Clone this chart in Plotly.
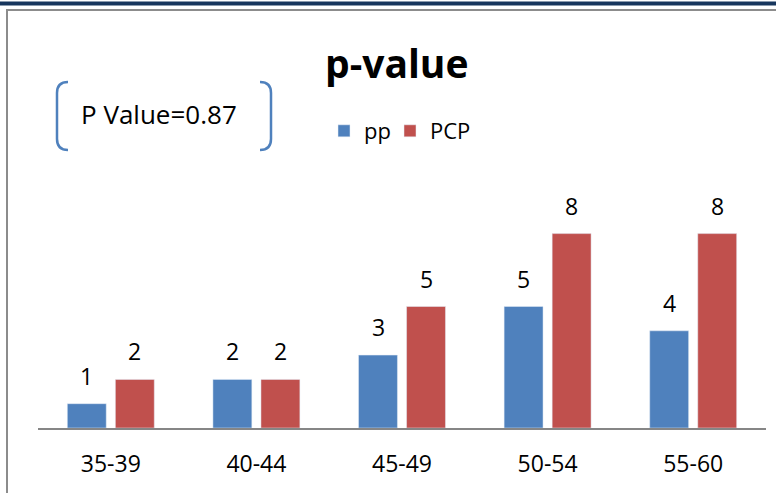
import plotly.graph_objects as go

categories = ["35-39", "40-44", "45-49", "50-54", "55-60"]
pp_values = [1, 2, 3, 5, 4]
pcp_values = [2, 2, 5, 8, 8]
series_names = ["pp", "PCP"]
title_text = "p-value"
note_text = "P Value=0.87"

W, H = 776, 493
ML, MR, MT, MB = 38, 10, 185, 65
PW, PH = W - ML - MR, H - MT - MB

def px(x):
    return (x - ML) / PW

def py(y):
    return (H - MB - y) / PH

FONT = "Open Sans"
BLUE = "#4F81BD"
RED = "#C0504D"

fig = go.Figure()
fig.add_trace(go.Bar(x=categories, y=pp_values, name=series_names[0], marker_color=BLUE, legend="legend"))
fig.add_trace(go.Bar(x=categories, y=pcp_values, name=series_names[1], marker_color=RED, legend="legend2"))

annotations = [
    dict(text=f"<b>{title_text}</b>", xref="paper", yref="paper", x=px(397), y=py(62),
         xanchor="center", yanchor="middle", showarrow=False,
         font=dict(size=39, family=FONT, color="black")),
    dict(text=note_text, xref="paper", yref="paper", x=px(79), y=py(114),
         xanchor="left", yanchor="middle", showarrow=False,
         font=dict(size=26, family=FONT, color="black")),
]
# value labels above each bar
for vals, shift in ((pp_values, -24), (pcp_values, 24)):
    for cat, v in zip(categories, vals):
        annotations.append(dict(text=str(v), x=cat, y=v, xref="x", yref="y", xshift=shift,
                                yshift=10, yanchor="bottom", showarrow=False,
                                font=dict(size=23, family=FONT, color="black")))

shapes = []
# top navy bar
shapes.append(dict(type="line", xref="paper", yref="paper", x0=px(0), x1=px(W), y0=py(3.5), y1=py(3.5),
                   line=dict(color="#17365D", width=4)))
# chart border
shapes.append(dict(type="rect", xref="paper", yref="paper", x0=px(7), x1=px(W + 20), y0=py(10), y1=py(H + 20),
                   line=dict(color="#8C8C8C", width=2)))
# bracket callout
left = f"M {px(68)},{py(82)} Q {px(57)},{py(82)} {px(57)},{py(93)} L {px(57)},{py(139)} Q {px(57)},{py(150)} {px(68)},{py(150)}"
right = f"M {px(260)},{py(82)} Q {px(271)},{py(82)} {px(271)},{py(93)} L {px(271)},{py(139)} Q {px(271)},{py(150)} {px(260)},{py(150)}"
for p in (left, right):
    shapes.append(dict(type="path", xref="paper", yref="paper", path=p, line=dict(color="#4F81BD", width=2.5)))

legend_common = dict(orientation="h", yanchor="middle", xanchor="left", itemwidth=30,
                     font=dict(size=22, family=FONT, color="black"), bgcolor="rgba(0,0,0,0)")

fig.update_layout(
    width=W, height=H,
    margin=dict(l=ML, r=MR, t=MT, b=MB),
    paper_bgcolor="white", plot_bgcolor="white",
    barmode="group", bargap=0.34, bargroupgap=0.19,
    showlegend=True,
    legend=dict(x=px(324), y=py(131), **legend_common),
    legend2=dict(x=px(390), y=py(131), **legend_common),
    xaxis=dict(showline=True, linecolor="#868686", linewidth=2, ticks="", showgrid=False,
               tickfont=dict(size=23, family=FONT, color="black"), ticklabelstandoff=14, zeroline=False),
    yaxis=dict(visible=False, range=[0, 10], showgrid=False, zeroline=False),
    shapes=shapes,
    annotations=annotations,
)

fig.write_html("out.html", config={"displayModeBar": False},
               post_script="document.body.style.margin='0';document.body.style.overflow='hidden';")
